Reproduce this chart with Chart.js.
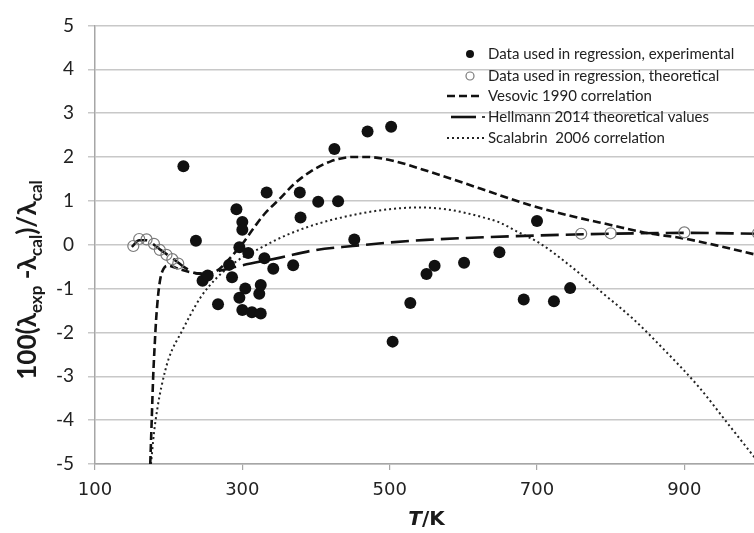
<!DOCTYPE html>
<html>
<head>
<meta charset="utf-8">
<script src="https://cdn.jsdelivr.net/npm/chart.js@4/dist/chart.umd.min.js"></script>
<style>
  html, body { margin: 0; padding: 0; background: #fff; overflow: hidden; width: 754px; height: 533px; }
  #wrap { width: 770px; height: 533px; position: relative; }
</style>
</head>
<body>
<div id="wrap"><canvas id="c" width="770" height="533"></canvas></div>
<script>
// Experimental points used in the regression (T in K, deviation in %)
const expT   = [220, 237, 246, 253, 267, 282, 286, 292, 296, 296, 300, 300, 300, 304, 308, 313, 323, 325, 325, 330, 333, 342, 369, 378, 379, 403, 430, 425, 452, 470, 502, 504, 528, 550, 561, 601, 649, 682, 700, 723, 745];
const expDev = [1.79, 0.09, -0.82, -0.70, -1.36, -0.46, -0.74, 0.81, -0.06, -1.21, 0.52, 0.34, -1.49, -1.00, -0.19, -1.54, -1.12, -0.92, -1.57, -0.31, 1.19, -0.55, -0.47, 1.19, 0.62, 0.98, 0.99, 2.18, 0.12, 2.58, 2.69, -2.21, -1.33, -0.67, -0.48, -0.41, -0.17, -1.25, 0.54, -1.29, -0.99];

// Theoretical points used in the regression
const theoT   = [152, 160, 170, 180, 188, 197, 205, 213, 760, 800, 900, 1000];
const theoDev = [-0.03, 0.13, 0.12, 0.02, -0.12, -0.23, -0.33, -0.43, 0.25, 0.26, 0.28, 0.26];

// Vesovic 1990 correlation
const vesovicT   = [175, 177, 179, 181, 183, 186, 189, 193, 198, 205, 215, 230, 250, 265, 283, 300, 315, 330, 351, 370, 392, 420, 450, 470, 500, 555, 623, 691, 745, 800, 845, 900, 950, 1000];
const vesovicDev = [-5, -4, -3, -2.3, -1.7, -1.1, -0.75, -0.55, -0.48, -0.5, -0.56, -0.63, -0.66, -0.6, -0.31, 0.02, 0.37, 0.7, 1.05, 1.38, 1.66, 1.9, 2.0, 2.0, 1.93, 1.66, 1.28, 0.9, 0.66, 0.45, 0.28, 0.14, -0.04, -0.24];

// Hellmann 2014 theoretical values
const hellmannT   = [150, 160, 170, 180, 190, 200, 210, 220, 230, 240, 250, 275, 300, 350, 400, 450, 500, 550, 600, 700, 800, 900, 1000];
const hellmannDev = [-0.05, 0.1, 0.1, 0.0, -0.13, -0.25, -0.37, -0.5, -0.6, -0.66, -0.66, -0.57, -0.47, -0.3, -0.12, -0.03, 0.05, 0.11, 0.15, 0.21, 0.25, 0.27, 0.25];

// Scalabrin 2006 correlation
const scalabrinT   = [176, 180, 185, 190, 200, 218, 243, 265, 292, 324, 360, 405, 460, 500, 540, 580, 623, 650, 673, 704, 742, 786, 831, 870, 920, 960, 1000];
const scalabrinDev = [-5, -4.3, -3.7, -3.25, -2.6, -1.97, -1.21, -0.76, -0.38, -0.08, 0.22, 0.49, 0.71, 0.81, 0.85, 0.8, 0.64, 0.5, 0.3, 0.03, -0.44, -1.06, -1.7, -2.35, -3.25, -4.1, -4.95];

// Axis ticks
const xTicks = [100, 300, 500, 700, 900];
const yTicks = [-5, -4, -3, -2, -1, 0, 1, 2, 3, 4, 5];

const legendLabels = [
  'Data used in regression, experimental',
  'Data used in regression, theoretical',
  'Vesovic 1990 correlation',
  'Hellmann 2014 theoretical values',
  'Scalabrin  2006 correlation'
];

const pts = (xs, ys) => xs.map((x, i) => ({ x: x, y: ys[i] }));

const datasets = [
  { label: legendLabels[0], data: pts(expT, expDev), showLine: false,
    pointRadius: 6, pointBackgroundColor: '#111', pointBorderColor: '#111', pointBorderWidth: 0, order: 0 },
  { label: legendLabels[1], data: pts(theoT, theoDev), showLine: false,
    pointRadius: 5.5, pointBackgroundColor: 'rgba(0,0,0,0)', pointBorderColor: '#7a7a7a', pointBorderWidth: 1.2, order: 0 },
  { label: legendLabels[2], data: pts(vesovicT, vesovicDev), showLine: true, pointRadius: 0,
    borderColor: '#111', borderWidth: 2.6, borderDash: [8, 4], cubicInterpolationMode: 'monotone', order: 1 },
  { label: legendLabels[3], data: pts(hellmannT, hellmannDev), showLine: true, pointRadius: 0,
    borderColor: '#111', borderWidth: 2.6, borderDash: [18, 7], cubicInterpolationMode: 'monotone', order: 1 },
  { label: legendLabels[4], data: pts(scalabrinT, scalabrinDev), showLine: true, pointRadius: 0,
    borderColor: '#222', borderWidth: 2, borderDash: [2, 3], cubicInterpolationMode: 'monotone', order: 1 }
];

// Legend drawn in the upper right of the plot
const legendPlugin = {
  id: 'boxLegend',
  afterDatasetsDraw(chart) {
    const ctx = chart.ctx;
    const rows = [54, 76, 96, 117, 138];
    const textX = 488;
    ctx.save();
    ctx.font = '15px Lato';
    ctx.fillStyle = '#222';
    ctx.textBaseline = 'middle';
    ctx.textAlign = 'left';
    legendLabels.forEach((t, i) => ctx.fillText(t, textX, rows[i]));

    // filled marker
    ctx.beginPath(); ctx.arc(470, rows[0], 4, 0, Math.PI * 2); ctx.fillStyle = '#111'; ctx.fill();
    // open marker
    ctx.beginPath(); ctx.arc(470, rows[1], 4, 0, Math.PI * 2);
    ctx.strokeStyle = '#7a7a7a'; ctx.lineWidth = 1.2; ctx.stroke();
    // line samples
    ctx.strokeStyle = '#111';
    ctx.lineWidth = 2.6; ctx.setLineDash([8, 4]);
    ctx.beginPath(); ctx.moveTo(447, rows[2]); ctx.lineTo(483, rows[2]); ctx.stroke();
    ctx.setLineDash([]);
    ctx.beginPath(); ctx.moveTo(451, rows[3]); ctx.lineTo(476, rows[3]); ctx.stroke();
    ctx.lineWidth = 1.6;
    ctx.beginPath(); ctx.moveTo(482, rows[3]); ctx.lineTo(485, rows[3]); ctx.stroke();
    ctx.strokeStyle = '#222'; ctx.lineWidth = 2; ctx.setLineDash([2, 3]);
    ctx.beginPath(); ctx.moveTo(447, rows[4]); ctx.lineTo(484, rows[4]); ctx.stroke();
    ctx.restore();
  }
};

// Axis titles: rotated y title with subscripts, and T/K under the x axis
const titlePlugin = {
  id: 'axisTitles',
  afterDraw(chart) {
    const ctx = chart.ctx;
    const area = chart.chartArea;
    ctx.save();
    ctx.fillStyle = '#1a1a1a';
    const F = 26, S = 17;
    const parts = [
      ['100(λ', F, 0], ['exp', S, 6], [' -λ', F, 0], ['cal', S, 6],
      [')/λ', F, 0], ['cal', S, 6]
    ];
    let total = 0;
    parts.forEach(p => { ctx.font = 'bold ' + p[1] + 'px Lato'; total += ctx.measureText(p[0]).width; });
    ctx.translate(36, 280);
    ctx.rotate(-Math.PI / 2);
    ctx.textBaseline = 'alphabetic';
    let x = -total / 2;
    parts.forEach(p => {
      ctx.font = 'bold ' + p[1] + 'px Lato';
      ctx.fillText(p[0], x, p[2]);
      x += ctx.measureText(p[0]).width;
    });
    ctx.restore();

    ctx.save();
    ctx.fillStyle = '#1a1a1a';
    ctx.textBaseline = 'middle';
    ctx.font = 'italic bold 20px "DejaVu Sans"';
    const wT = ctx.measureText('T').width;
    ctx.font = 'bold 20px "DejaVu Sans"';
    const wK = ctx.measureText('/K').width;
    const cx = (area.left + area.right) / 2;
    let sx = cx - (wT + wK) / 2;
    ctx.font = 'italic bold 20px "DejaVu Sans"';
    ctx.fillText('T', sx, 520);
    ctx.font = 'bold 20px "DejaVu Sans"';
    ctx.fillText('/K', sx + wT, 520);
    ctx.restore();
  }
};

new Chart(document.getElementById('c'), {
  type: 'scatter',
  data: { datasets: datasets },
  options: {
    responsive: false,
    animation: false,
    devicePixelRatio: 1,
    layout: { padding: { left: 0, right: 12, top: 22, bottom: 0 } },
    plugins: { legend: { display: false }, tooltip: { enabled: false } },
    scales: {
      x: {
        type: 'linear', min: 100, max: 1000,
        afterBuildTicks: (s) => { s.ticks = xTicks.map(v => ({ value: v })); },
        afterFit: (s) => { s.height = 69; },
        border: { display: true, color: '#a6a6a6', width: 1.5 },
        grid: { drawOnChartArea: false, drawTicks: true, tickLength: 6, color: '#a6a6a6', lineWidth: 1.2 },
        ticks: { padding: 10, color: '#222', font: { family: 'DejaVu Sans', size: 18 }, maxRotation: 0 }
      },
      y: {
        type: 'linear', min: -5, max: 5,
        afterBuildTicks: (s) => { s.ticks = yTicks.map(v => ({ value: v })); },
        afterFit: (s) => { s.width = 95; },
        border: { display: true, color: '#a6a6a6', width: 1.5 },
        grid: { color: '#c8c8c8', lineWidth: 1.5, tickLength: 7 },
        ticks: { padding: 14, color: '#222', font: { family: 'Lato', size: 19 } }
      }
    }
  },
  plugins: [legendPlugin, titlePlugin]
});
</script>
</body>
</html>
